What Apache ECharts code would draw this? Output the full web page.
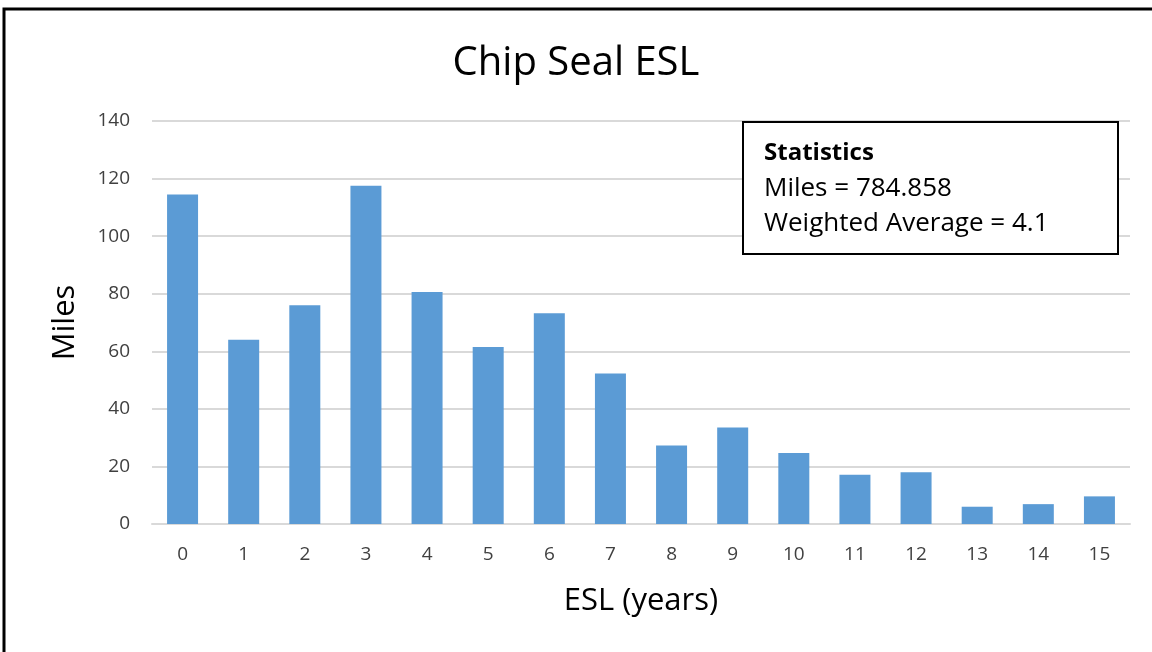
<!DOCTYPE html>
<html>
<head>
<meta charset="utf-8">
<script src="https://cdn.jsdelivr.net/npm/echarts@6/dist/echarts.min.js"></script>
<style>
  html, body { margin: 0; padding: 0; background: #fff; }
  #chart { width: 1152px; height: 652px; }
</style>
</head>
<body>
<div id="chart"></div>
<script>
// data
const categories = ['0', '1', '2', '3', '4', '5', '6', '7', '8', '9', '10', '11', '12', '13', '14', '15'];
const miles = [114.5, 64, 76, 117.5, 80.6, 61.5, 73.2, 52.3, 27.3, 33.5, 24.7, 17.1, 18, 6, 6.9, 9.6];
const statsTitle = 'Statistics';
const statsLines = ['Miles = 784.858', 'Weighted Average = 4.1'];

const font = '"Open Sans", "Noto Sans", sans-serif';
const chart = echarts.init(document.getElementById('chart'));

const option = {
  backgroundColor: '#fff',
  animation: false,
  title: {
    text: 'Chip Seal ESL',
    left: 'center',
    top: 39,
    textStyle: { fontFamily: font, fontSize: 40, fontWeight: 'normal', color: '#000' }
  },
  grid: { left: 152, right: 22, top: 121, bottom: 128 },
  xAxis: {
    type: 'category',
    data: categories,
    name: 'ESL (years)',
    nameLocation: 'middle',
    nameGap: 62,
    nameTextStyle: { fontFamily: font, fontSize: 31, color: '#000' },
    axisLine: { lineStyle: { color: '#d9d9d9', width: 2 } },
    axisTick: { show: false },
    axisLabel: { fontFamily: font, fontSize: 19, color: '#404040', margin: 21 }
  },
  yAxis: {
    type: 'value',
    min: 0,
    max: 140,
    interval: 20,
    name: 'Miles',
    nameLocation: 'middle',
    nameGap: 71,
    nameTextStyle: { fontFamily: font, fontSize: 31, color: '#000' },
    axisLine: { show: false },
    axisTick: { show: false },
    axisLabel: { fontFamily: font, fontSize: 19, color: '#404040', margin: 22 },
    splitLine: { lineStyle: { color: '#d9d9d9', width: 2 } }
  },
  series: [{
    type: 'bar',
    data: miles,
    barWidth: 31,
    itemStyle: { color: '#5b9bd5' }
  }],
  graphic: [
    {
      type: 'rect',
      shape: { x: 4, y: 9, width: 1300, height: 800 },
      style: { fill: 'none', stroke: '#000', lineWidth: 3 },
      silent: true
    },
    {
      type: 'rect',
      shape: { x: 743, y: 122, width: 375, height: 132 },
      style: { fill: '#fff', stroke: '#000', lineWidth: 2 },
      z: 100
    },
    {
      type: 'text',
      x: 764, y: 153,
      style: { text: statsTitle, font: 'bold 24px ' + font, fill: '#000', verticalAlign: 'middle' },
      z: 101
    },
    {
      type: 'text',
      x: 764, y: 189,
      style: { text: statsLines[0], font: '26px ' + font, fill: '#000', verticalAlign: 'middle' },
      z: 101
    },
    {
      type: 'text',
      x: 764, y: 224,
      style: { text: statsLines[1], font: '26px ' + font, fill: '#000', verticalAlign: 'middle' },
      z: 101
    }
  ]
};

chart.setOption(option);
</script>
</body>
</html>
